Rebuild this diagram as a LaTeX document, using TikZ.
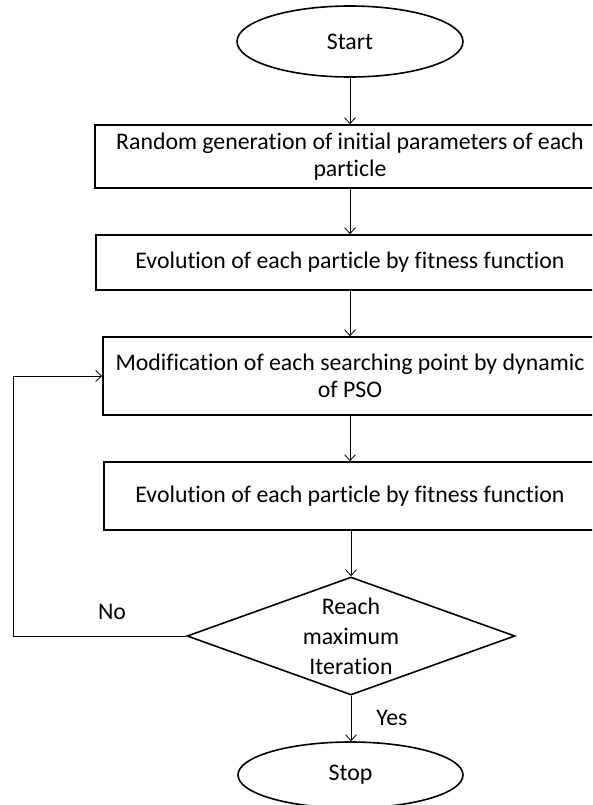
\documentclass[tikz,border=0pt]{standalone}
\usepackage{fontspec}
\setmainfont{Carlito}[Ligatures=NoCommon]
\usetikzlibrary{shapes.geometric,arrows.meta}
\begin{document}
\begin{tikzpicture}[x=1pt,y=-1pt,
  txt/.style={font=\fontsize{23.8}{27}\selectfont},
  box/.style={draw,line width=1.6pt,inner sep=0pt,align=center,txt},
  term/.style={draw,ellipse,line width=1.6pt,inner sep=0pt,txt},
  dec/.style={draw,diamond,aspect=2.78,line width=1.6pt,inner sep=0pt,align=center,font=\fontsize{23.8}{30}\selectfont},
  conn/.style={line width=0.8pt,-{Straight Barb[length=6pt,width=11pt]}},
  lbl/.style={txt}]
\useasboundingbox (0,0) rectangle (592,805);
\fill[white] (0,0) rectangle (592,805);
\clip (0,0) rectangle (592,805);
\node[term, minimum width=226pt, minimum height=71pt] (start) at (350,41.5) {Start};
\node[box, minimum width=510pt, minimum height=63pt] (b1) at (350,156.5) {Random generation of initial parameters of each\\particle};
\node[box, minimum width=508pt, minimum height=55pt] (b2) at (350,262.5) {Evolution of each particle by fitness function};
\node[box, minimum width=494pt, minimum height=78pt] (b3) at (350,376) {Modification of each searching point by dynamic\\of PSO};
\node[box, minimum width=492pt, minimum height=68pt] (b4) at (350,496) {Evolution of each particle by fitness function};
\node[dec, minimum width=328pt, minimum height=118pt] (dec) at (351,636) {Reach\\maximum\\Iteration};
\node[term, minimum width=225pt, minimum height=66pt] (stop) at (350.5,775) {Stop};
\node[lbl] (no) at (112,612) {No};
\node[lbl] (yes) at (392,718) {Yes};
\coordinate (fb) at (13,636);
\draw[conn] (start) -- (b1);
\draw[conn] (b1) -- (b2);
\draw[conn] (b2) -- (b3);
\draw[conn] (b3) -- (b4);
\draw[conn] (b4.south -| dec.north) -- (dec.north);
\draw[conn] (dec.south) -- (stop.north -| dec.south);
\draw[conn] (dec.west) -- (fb) |- (b3.west);
\end{tikzpicture}
\end{document}
